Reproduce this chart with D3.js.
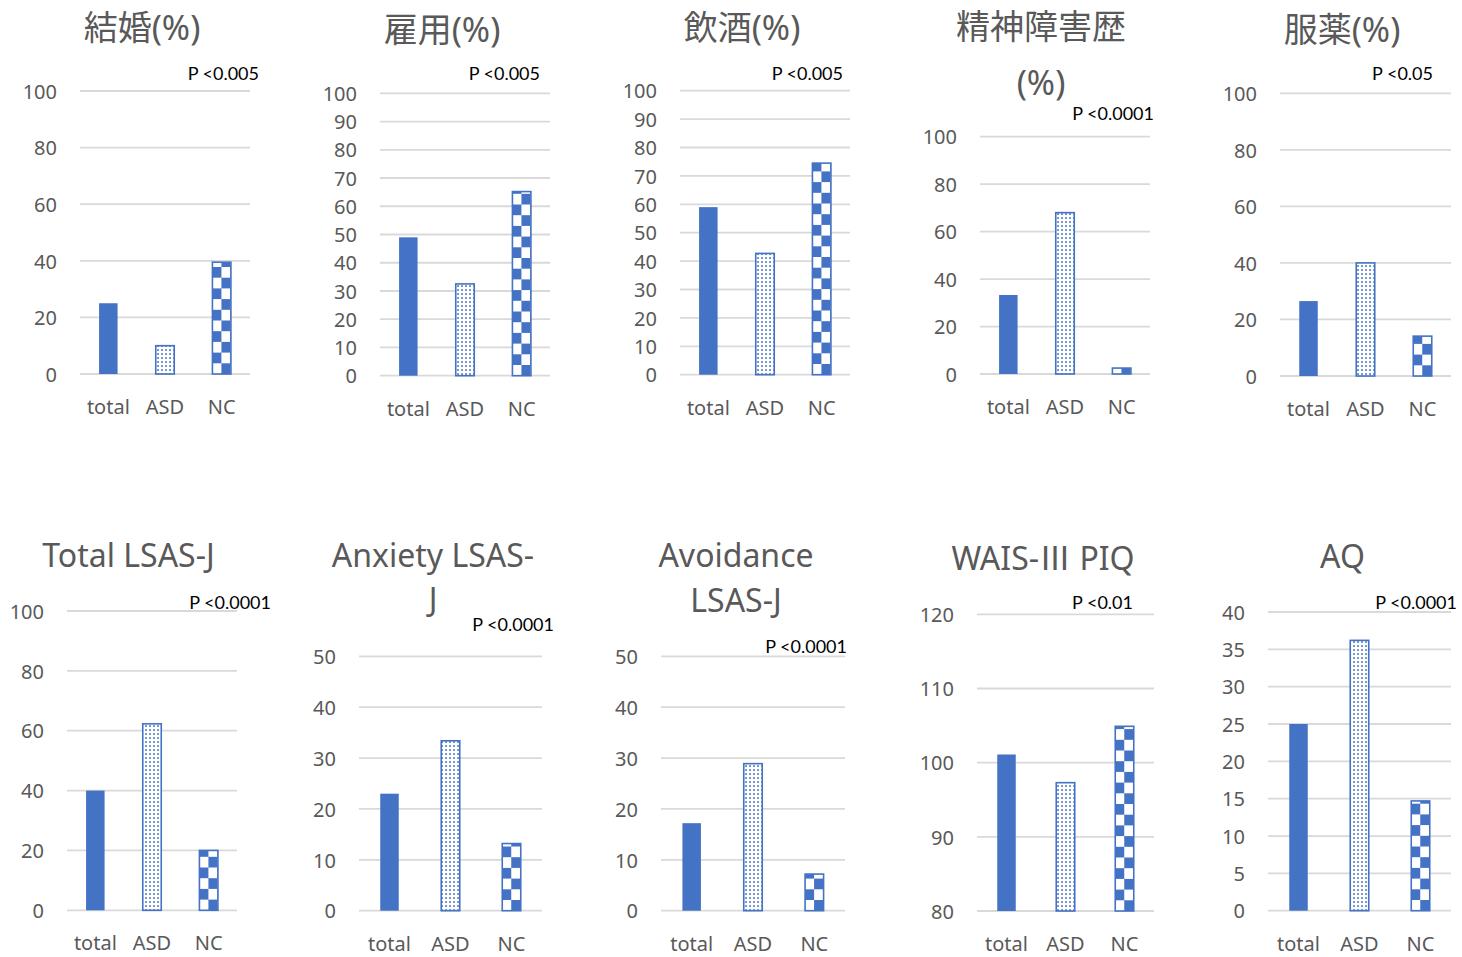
<!DOCTYPE html>
<html>
<head>
<meta charset="utf-8">
<script src="https://cdn.jsdelivr.net/npm/d3@7"></script>
<style>
  html, body { margin: 0; padding: 0; background: #ffffff; }
  svg { display: block; }
  .wide { font-feature-settings: "fwid" 1; }
</style>
</head>
<body>
<svg id="chart" width="1462" height="957"></svg>
<script>
// ---- data ----
const categories = ["total", "ASD", "NC"];
const titleLines = [
  ["結婚(%)"], ["雇用(%)"], ["飲酒(%)"], ["精神障害歴", "(%)"], ["服薬(%)"],
  ["Total LSAS-J"], ["Anxiety LSAS-", "J"], ["Avoidance", "LSAS-J"], ["WAIS-Ⅲ PIQ"], ["AQ"]
];
const pLabels = ["P <0.005", "P <0.005", "P <0.005", "P <0.0001", "P <0.05",
                 "P <0.0001", "P <0.0001", "P <0.0001", "P <0.01", "P <0.0001"];
const totalValues = [25, 49, 59, 33.3, 26.5, 40, 23, 17.2, 101.1, 25];
const asdValues   = [10, 32.5, 42.7, 68, 40, 62.3, 33.4, 28.9, 97.3, 36.2];
const ncValues    = [39.5, 65.2, 74.5, 2.5, 14.1, 20, 13.2, 7.2, 104.9, 14.7];
const yMin  = [0, 0, 0, 0, 0, 0, 0, 0, 80, 0];
const yMax  = [100, 100, 100, 100, 100, 100, 50, 50, 120, 40];
const yStep = [20, 10, 10, 20, 20, 20, 10, 10, 10, 5];

// ---- layout of the ten small panels ----
// tc: vertical centre of each title line
const layout = [
  {l: 80,   r: 250,  t: 91,    b: 374,   tx: 142,   tc: [27],       pr: 259,  pb: 80},
  {l: 380,  r: 550,  t: 93.3,  b: 375.7, tx: 442,   tc: [29],       pr: 540,  pb: 80},
  {l: 680,  r: 850,  t: 90.7,  b: 374.7, tx: 742,   tc: [27],       pr: 843,  pb: 80},
  {l: 980,  r: 1150, t: 136.7, b: 374,   tx: 1041,  tc: [26, 83],   pr: 1154, pb: 120},
  {l: 1280, r: 1451, t: 93.3,  b: 376,   tx: 1342,  tc: [29],       pr: 1433, pb: 80},
  {l: 67,   r: 237,  t: 611,   b: 910.3, tx: 128.5, tc: [556],      pr: 271,  pb: 609},
  {l: 359,  r: 542,  t: 656.3, b: 910.7, tx: 433,   tc: [556, 600], pr: 554,  pb: 631},
  {l: 661,  r: 845,  t: 656.3, b: 910.7, tx: 736,   tc: [556, 601], pr: 847,  pb: 653},
  {l: 977,  r: 1154, t: 614.3, b: 911,   tx: 1043,  tc: [559],      pr: 1133, pb: 609},
  {l: 1268, r: 1451, t: 612,   b: 910.7, tx: 1342.5,tc: [556.7],    pr: 1457, pb: 609}
];

const BLUE = "#4472C4";
const GRID = "#D9D9D9";
const TEXT = "#595959";
const FONT = "'Noto Sans', 'Noto Sans CJK JP', sans-serif";
const CJK_FONT = "'Noto Sans CJK JP', sans-serif";
const BAR_W = 18.5;
const isWide = ch => /[\u2160-\u217F\u3000-\u9FFF\uFF00-\uFFEF]/.test(ch);

const svg = d3.select("#chart");
const defs = svg.append("defs");

// dotted fill used for the ASD bars
const dots = defs.append("pattern")
  .attr("id", "dots").attr("patternUnits", "userSpaceOnUse")
  .attr("width", 4).attr("height", 4);
dots.append("rect").attr("width", 4).attr("height", 4).attr("fill", "#ffffff");
dots.append("rect").attr("x", 1.2).attr("y", 1.2).attr("width", 1.7).attr("height", 1.7).attr("fill", BLUE);

function checkerPattern(id, x0, y0) {
  const cw = 9, ch = 10.7;
  const p = defs.append("pattern")
    .attr("id", id).attr("patternUnits", "userSpaceOnUse")
    .attr("x", x0).attr("y", y0)
    .attr("width", cw * 2).attr("height", ch * 2);
  p.append("rect").attr("width", cw * 2).attr("height", ch * 2).attr("fill", "#ffffff");
  p.append("rect").attr("x", 0).attr("y", 0).attr("width", cw).attr("height", ch).attr("fill", BLUE);
  p.append("rect").attr("x", cw).attr("y", ch).attr("width", cw).attr("height", ch).attr("fill", BLUE);
}

// split a title line into runs of wide (CJK) and narrow characters
function runs(str) {
  const out = [];
  for (const ch of str) {
    const w = isWide(ch);
    if (out.length && out[out.length - 1].w === w) out[out.length - 1].s += ch;
    else out.push({s: ch, w});
  }
  return out;
}

layout.forEach((L, i) => {
  const g = svg.append("g");
  const values = [totalValues[i], asdValues[i], ncValues[i]];

  const x = d3.scaleBand().domain(categories).range([L.l, L.r]).padding(0);
  const y = d3.scaleLinear().domain([yMin[i], yMax[i]]).range([L.b, L.t]);
  const ticks = d3.range(yMin[i], yMax[i] + yStep[i] / 2, yStep[i]);

  // horizontal gridlines
  g.append("g").selectAll("line").data(ticks).join("line")
    .attr("x1", L.l).attr("x2", L.r)
    .attr("y1", d => y(d)).attr("y2", d => y(d))
    .attr("stroke", GRID).attr("stroke-width", 1.8);

  // value axis labels
  const yAxis = d3.axisLeft(y).tickValues(ticks).tickSize(0).tickPadding(0).tickFormat(d3.format("d"));
  const ya = g.append("g").attr("transform", `translate(${L.l - 23},0)`).call(yAxis);
  ya.select(".domain").remove();
  ya.selectAll("text").attr("fill", TEXT).attr("font-family", FONT).attr("font-size", 20)
    .attr("dy", "0.36em");

  // category labels
  const xAxis = d3.axisBottom(x).tickSize(0).tickPadding(0);
  const xa = g.append("g").attr("transform", `translate(0,${L.b + 40})`).call(xAxis);
  xa.select(".domain").remove();
  xa.selectAll("text").attr("fill", TEXT).attr("font-family", FONT).attr("font-size", 20)
    .attr("dy", 0).attr("y", 0);

  // fills for the three bars
  const bottomY = y(yMin[i]);
  const ncId = "checker" + i;
  checkerPattern(ncId, x("NC") + x.bandwidth() / 2 - BAR_W / 2, bottomY);
  const fills = [BLUE, "url(#dots)", `url(#${ncId})`];

  g.append("g").selectAll("rect").data(values).join("rect")
    .attr("x", (d, k) => x(categories[k]) + x.bandwidth() / 2 - BAR_W / 2)
    .attr("width", BAR_W)
    .attr("y", d => y(d))
    .attr("height", d => bottomY - y(d))
    .attr("fill", (d, k) => fills[k])
    .attr("stroke", (d, k) => k === 0 ? "none" : BLUE)
    .attr("stroke-width", 1.6);

  // title: Japanese titles are set a little larger than the Latin ones
  const cjkTitle = titleLines[i].some(s => /[\u3000-\u9FFF]/.test(s));
  const tSize = cjkTitle ? 34 : 32;
  titleLines[i].forEach((line, k) => {
    const lineCjk = /[\u3000-\u9FFF]/.test(line);
    const base = L.tc[k] + (lineCjk ? 0.38 : 0.357) * tSize;
    const t = g.append("text")
      .attr("x", L.tx).attr("y", base)
      .attr("text-anchor", "middle")
      .attr("fill", TEXT).attr("font-family", FONT).attr("font-size", tSize);
    runs(line).forEach(r => {
      t.append("tspan")
        .attr("font-family", r.w ? CJK_FONT : FONT)
        .attr("class", r.w ? "wide" : null)
        .text(r.s);
    });
  });

  // significance note
  g.append("text")
    .attr("x", L.pr).attr("y", L.pb)
    .attr("text-anchor", "end")
    .attr("fill", "#000000").attr("font-family", "Lato, 'Open Sans', sans-serif").attr("font-size", 18)
    .text(pLabels[i]);
});
</script>
</body>
</html>
